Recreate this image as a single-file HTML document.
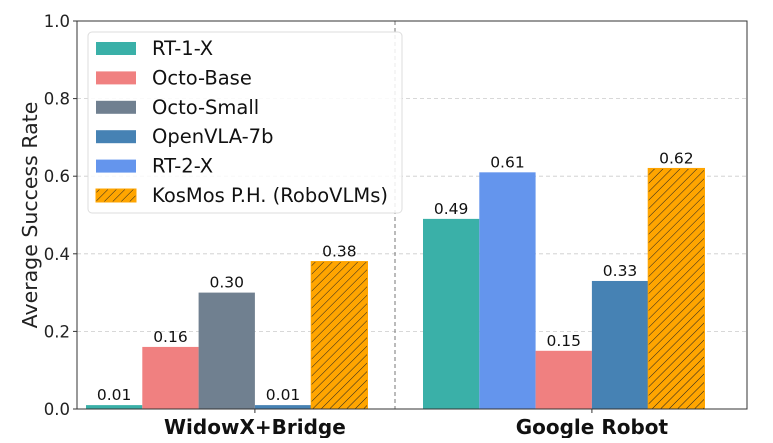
<!DOCTYPE html>
<html><head><meta charset="utf-8"><style>
body{margin:0;background:#fff}
svg{font-family:"DejaVu Sans","Liberation Sans",sans-serif}
</style></head><body>
<svg id="c" width="773" height="438">
<defs><pattern id="hatch" width="6" height="6" patternUnits="userSpaceOnUse" patternTransform="rotate(45)">
<rect width="6" height="6" fill="#FFA500"/><line x1="0" y1="0" x2="0" y2="6" stroke="#222" stroke-width="1"/></pattern></defs>
<g id="grid"></g><g id="bars"></g><g id="axes"></g><g id="legend"></g>
</svg>
<script>
const groups=["WidowX+Bridge","Google Robot"];
const widowModels=["RT-1-X","Octo-Base","Octo-Small","OpenVLA-7b","KosMos P.H. (RoboVLMs)"];
const widowValues=[0.01,0.16,0.30,0.01,0.38];
const googleModels=["RT-1-X","RT-2-X","Octo-Base","OpenVLA-7b","KosMos P.H. (RoboVLMs)"];
const googleValues=[0.49,0.61,0.15,0.33,0.62];
const yTicks=[0,0.2,0.4,0.6,0.8,1.0];
const legendNames=["RT-1-X","Octo-Base","Octo-Small","OpenVLA-7b","RT-2-X","KosMos P.H. (RoboVLMs)"];
const colors={"RT-1-X":"#3AB0A8","Octo-Base":"#F08080","Octo-Small":"#708090","OpenVLA-7b":"#4682B4","RT-2-X":"#6495ED","KosMos P.H. (RoboVLMs)":"url(#hatch)"};
const NS="http://www.w3.org/2000/svg";
const L=77,R=747,T=21,B=409;
const y=v=>B-v*(B-T);
const bw=56.3;
const groupStart=[86,423];
function mk(tag,attrs,parent,text){const e=document.createElementNS(NS,tag);for(const k in attrs)e.setAttribute(k,attrs[k]);if(text!==undefined)e.textContent=text;parent.appendChild(e);return e;}
const grid=document.getElementById('grid'),bars=document.getElementById('bars'),axes=document.getElementById('axes'),leg=document.getElementById('legend');
yTicks.forEach(t=>{
 if(t>0&&t<1){const g=mk('line',{x1:L,x2:R,y1:y(t),y2:y(t),stroke:'#ccc','stroke-dasharray':'4,3','stroke-width':0.8},grid);
 
 }
 const tl=mk('text',{x:L-7,y:y(t)+6,'text-anchor':'end','font-size':16.5,fill:'#222'},axes,t.toFixed(1));
 
 
 mk('line',{x1:L-4,x2:L,y1:y(t),y2:y(t),stroke:'#333'},axes);
});
const sep=mk('line',{x1:395,x2:395,y1:T,y2:B,stroke:'#777','stroke-dasharray':'4,3','stroke-width':1},grid);


[[widowModels,widowValues],[googleModels,googleValues]].forEach(([ms,vs],gi)=>{
 ms.forEach((m,i)=>{
  const x0=groupStart[gi]+i*bw;
  const r=mk('rect',{x:x0,y:y(vs[i]),width:bw,height:B-y(vs[i]),fill:colors[m],stroke:m.startsWith('KosMos')?'#FFA500':'none','stroke-width':1},bars);
  
  
  const lb=mk('text',{x:x0+bw/2,y:y(vs[i])-5,'text-anchor':'middle','font-size':15.5,fill:'#111'},bars,vs[i].toFixed(2));
  
  
 });
 const cx=groupStart[gi]+3*bw;
 mk('line',{x1:cx,x2:cx,y1:B,y2:B+4,stroke:'#333'},axes);
 const gl=mk('text',{x:cx,y:B+25,'text-anchor':'middle','font-size':20,'font-weight':'bold',fill:'#111'},axes,groups[gi]);
 
 
});
const fr=mk('rect',{x:L,y:T,width:R-L,height:B-T,fill:'none',stroke:'#333','stroke-width':1},axes);


const yl=mk('text',{x:0,y:0,transform:'translate(37,215) rotate(-90)','text-anchor':'middle','font-size':20.5,fill:'#222'},axes,'Average Success Rate');


const lb=mk('rect',{x:88,y:32,width:314,height:181,rx:4,fill:'#fff','fill-opacity':0.85,stroke:'#ddd'},leg);


legendNames.forEach((n,i)=>{
 const yy=48+i*29.4;
 const p=mk('rect',{x:96,y:yy-6,width:40,height:13,fill:colors[n],stroke:n.startsWith('KosMos')?'#FFA500':'none'},leg);
 
 
 const t=mk('text',{x:152,y:yy+7,'font-size':19.5,fill:'#111'},leg,n);
 
 
});
</script>
</body></html>
